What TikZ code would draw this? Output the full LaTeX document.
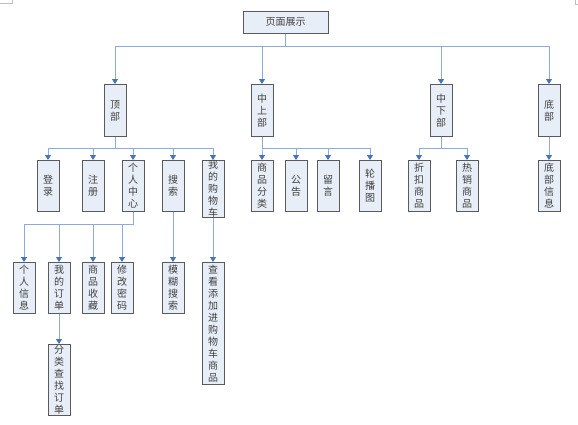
\documentclass[tikz,border=0pt]{standalone}
\usepackage{fontspec}
\setmainfont{Noto Sans CJK SC}
\usepackage{xcolor}
\usepackage{tikz}
\usetikzlibrary{arrows.meta}
\definecolor{boxfill}{HTML}{E8EEF7}
\definecolor{boxline}{HTML}{5A5A5A}
\definecolor{linkline}{HTML}{8CAADC}
\definecolor{linktip}{HTML}{4472C4}
\definecolor{boxtext}{HTML}{404040}

\begin{document}
\begin{tikzpicture}[
    x=1pt, y=1pt,
    box/.style = {
        rectangle,
        draw=boxline,
        fill=boxfill,
        line width=0.9pt,
        minimum width=22pt,
        inner sep=0pt,
        align=center,
        text=boxtext,
        font=\fontsize{10}{12}\selectfont,
        anchor=north
    },
    arrow/.style = {->, line width=0.9pt, >={Triangle[width=6pt,length=5pt,color=linktip]}, draw=linkline},
    cropmark/.style = {draw=black!25, line width=0.6pt}
]
\useasboundingbox (0,0) rectangle (578,-424);

% corner marks
\draw[cropmark] (0,-3) -- (12,-3) -- (12,0);
\draw[cropmark] (575,0) -- (575,-4) -- (578,-4);

% root
\node[box, minimum width=85pt, minimum height=22pt] (page) at (285.5,-11) {页面展示};

% level 2
\node[box, minimum height=52pt] (top)      at (115,-84) {顶\\部};
\node[box, minimum height=52pt] (midup)    at (262,-84) {中\\上\\部};
\node[box, minimum height=52pt] (middown)  at (441,-84) {中\\下\\部};
\node[box, minimum height=52pt] (bottom)   at (549,-84) {底\\部};

% level 3
\node[box, minimum height=51pt] (login)      at (48,-160)  {登\\录};
\node[box, minimum height=51pt] (register)   at (93,-160)  {注\\册};
\node[box, minimum height=51pt] (usercenter) at (133,-160) {个\\人\\中\\心};
\node[box, minimum height=51pt] (search)     at (173,-160) {搜\\索};
\node[box, minimum height=53pt] (cart)       at (213,-160) {我\\的\\购\\物\\车};
\node[box, minimum height=51pt] (category)   at (262,-160) {商\\品\\分\\类};
\node[box, minimum height=51pt] (notice)     at (296,-160) {公\\告};
\node[box, minimum height=51pt] (message)    at (328,-160) {留\\言};
\node[box, minimum height=51pt] (carousel)   at (370,-160) {轮\\播\\图};
\node[box, minimum height=51pt] (discount)   at (419,-160) {折\\扣\\商\\品};
\node[box, minimum height=51pt] (hot)        at (467,-160) {热\\销\\商\\品};
\node[box, minimum height=51pt] (bottominfo) at (549,-160) {底\\部\\信\\息};

% level 4
\node[box, minimum height=51pt]  (userinfo)  at (24,-262)  {个\\人\\信\\息};
\node[box, minimum height=51pt]  (myorder)   at (59,-262)  {我\\的\\订\\单};
\node[box, minimum height=51pt]  (favorite)  at (93,-262)  {商\\品\\收\\藏};
\node[box, minimum height=51pt]  (password)  at (122,-262) {修\\改\\密\\码};
\node[box, minimum height=51pt]  (fuzzy)     at (173,-262) {模\\糊\\搜\\索};
\node[box, minimum height=122pt] (cartitems) at (213,-262) {查\\看\\添\\加\\进\\购\\物\\车\\商\\品};

% level 5
\node[box, minimum height=71pt] (orderquery) at (59,-344) {分\\类\\查\\找\\订\\单};

% root to level 2
\foreach \child in {top,midup,middown,bottom}
    \draw[arrow] (page.south) -- ++(0,-13) -| (\child.north);

% level 2 to level 3
\foreach \child in {login,register,usercenter,search,cart}
    \draw[arrow] (top.south) -- ++(0,-12) -| (\child.north);
\foreach \child in {category,notice,message,carousel}
    \draw[arrow] (midup.south) -- ++(0,-12) -| (\child.north);
\foreach \child in {discount,hot}
    \draw[arrow] (middown.south) -- ++(0,-12) -| (\child.north);
\draw[arrow] (bottom.south) -- (bottominfo.north);

% level 3 to level 4
\foreach \child in {userinfo,myorder,favorite,password}
    \draw[arrow] (usercenter.south) -- ++(0,-13) -| (\child.north);
\draw[arrow] (search.south) -- (fuzzy.north);
\draw[arrow] (cart.south) -- (cartitems.north);

% level 4 to level 5
\draw[arrow] (myorder.south) -- (orderquery.north);

\end{tikzpicture}
\end{document}
